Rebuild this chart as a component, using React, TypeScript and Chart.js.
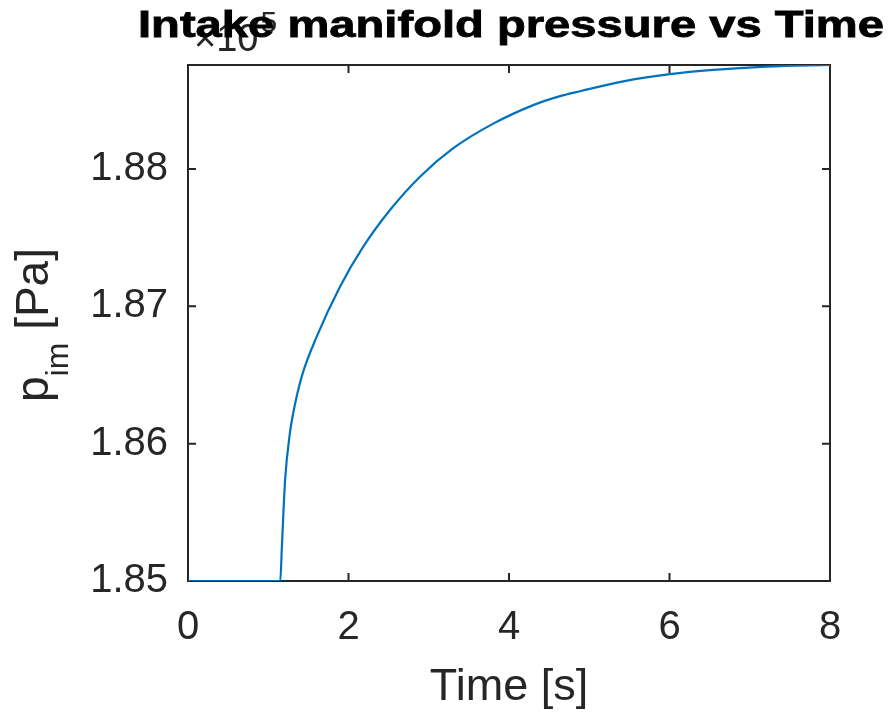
import React, { useEffect, useRef } from "react";
import { Chart, registerables } from "chart.js";

Chart.register(...registerables);

// Data
const timeS: number[] = [0, 1.15, 1.17, 1.21, 1.27, 1.31, 1.417, 1.604, 1.894, 2.184, 2.517, 2.891, 3.306, 3.804, 4.303, 4.636, 4.885, 5.424, 6.006, 6.546, 7.211, 8.0];
const pressurePa: number[] = [185000, 185000, 185250, 185736, 186078, 186220, 186488, 186779, 187143, 187434, 187701, 187944, 188151, 188330, 188465, 188530, 188566, 188638, 188690, 188721, 188745, 188757];
const xTicks: number[] = [0, 2, 4, 6, 8];
const yTicks: number[] = [185000, 186000, 187000, 188000];

const titleText = "Intake manifold pressure vs Time";
const xLabel = "Time [s]";
const yLabelMain = "p";
const yLabelSub = "im";
const yLabelRest = " [Pa]";
const exponentBase = "\u00d710";
const exponentPow = "5";

const FONT = "'Liberation Sans', Arial, Helvetica, sans-serif";
const AXIS_COLOR = "#262626";

const framePlugin = {
  id: "matlabFrame",
  beforeDatasetsDraw(chart: any) {
    const { ctx, chartArea, scales } = chart;
    const { left, right, top, bottom } = chartArea;
    const x = scales.x;
    const y = scales.y;
    ctx.save();
    ctx.strokeStyle = AXIS_COLOR;
    ctx.lineWidth = 2;
    ctx.strokeRect(left, top, right - left, bottom - top);
    const tl = 8;
    ctx.beginPath();
    xTicks.forEach((v) => {
      const px = x.getPixelForValue(v);
      ctx.moveTo(px, bottom);
      ctx.lineTo(px, bottom - tl);
      ctx.moveTo(px, top);
      ctx.lineTo(px, top + tl);
    });
    yTicks.forEach((v) => {
      const py = y.getPixelForValue(v);
      ctx.moveTo(left, py);
      ctx.lineTo(left + tl, py);
      ctx.moveTo(right, py);
      ctx.lineTo(right - tl, py);
    });
    ctx.stroke();
    ctx.restore();
  },
  afterDraw(chart: any) {
    const { ctx, chartArea } = chart;
    const { left, right, top, bottom } = chartArea;
    ctx.save();
    // y axis label with subscript
    ctx.fillStyle = AXIS_COLOR;
    ctx.textBaseline = "alphabetic";
    const mainFont = `46px ${FONT}`;
    const subFont = `32px ${FONT}`;
    ctx.font = mainFont;
    const w1 = ctx.measureText(yLabelMain).width;
    const w3 = ctx.measureText(yLabelRest).width;
    ctx.font = subFont;
    const w2 = ctx.measureText(yLabelSub).width;
    const total = w1 + w2 + w3;
    ctx.translate(48, (top + bottom) / 2 + 2);
    ctx.rotate(-Math.PI / 2);
    let cx = -total / 2;
    ctx.textAlign = "left";
    ctx.font = mainFont;
    ctx.fillText(yLabelMain, cx, 0);
    cx += w1;
    ctx.font = subFont;
    ctx.fillText(yLabelSub, cx, 20);
    cx += w2;
    ctx.font = mainFont;
    ctx.fillText(yLabelRest, cx, 0);
    ctx.restore();

    // exponent label
    ctx.save();
    ctx.fillStyle = AXIS_COLOR;
    ctx.textAlign = "left";
    ctx.textBaseline = "alphabetic";
    ctx.font = `38px ${FONT}`;
    ctx.fillText(exponentBase, left + 6, top - 14);
    const wb = ctx.measureText(exponentBase).width;
    ctx.font = `30px ${FONT}`;
    ctx.fillText(exponentPow, left + 6 + wb + 2, top - 33);
    ctx.restore();

    // title
    ctx.save();
    ctx.fillStyle = "#000000";
    ctx.strokeStyle = "#000000";
    ctx.lineWidth = 0.8;
    ctx.font = `bold 36px ${FONT}`;
    ctx.textAlign = "center";
    ctx.textBaseline = "alphabetic";
    const tw = ctx.measureText(titleText).width;
    const sx = 746 / tw;
    ctx.translate((left + right) / 2 + 2, top - 28);
    ctx.scale(sx, 1);
    ctx.fillText(titleText, 0, 0);
    ctx.strokeText(titleText, 0, 0);
    ctx.restore();
  },
};

export default function App() {
  const canvasRef = useRef<HTMLCanvasElement | null>(null);

  useEffect(() => {
    if (!canvasRef.current) return;
    const chart = new Chart(canvasRef.current, {
      type: "line",
      data: {
        datasets: [
          {
            data: timeS.map((t, i) => ({ x: t, y: pressurePa[i] })),
            borderColor: "#0072BD",
            borderWidth: 2.2,
            pointRadius: 0,
            fill: false,
            cubicInterpolationMode: "monotone",
          },
        ],
      },
      options: {
        animation: false,
        responsive: true,
        maintainAspectRatio: false,
        layout: { padding: { left: 0, right: 59, top: 65, bottom: 0 } },
        plugins: {
          legend: { display: false },
          tooltip: { enabled: false },
          title: { display: false },
        },
        scales: {
          x: {
            type: "linear",
            min: 0,
            max: 8,
            grid: { display: false, drawTicks: false },
            border: { display: false },
            afterBuildTicks: (scale: any) => {
              scale.ticks = xTicks.map((v) => ({ value: v }));
            },
            ticks: {
              color: AXIS_COLOR,
              font: { family: FONT, size: 40 },
              padding: 23,
              maxRotation: 0,
              autoSkip: false,
            },
            title: {
              display: true,
              text: xLabel,
              color: AXIS_COLOR,
              font: { family: FONT, size: 45 },
              padding: { top: 0, bottom: 0 },
            },
            afterFit: (scale: any) => {
              scale.height = 134;
            },
          },
          y: {
            type: "linear",
            min: 185000,
            max: 188757,
            grid: { display: false, drawTicks: false },
            border: { display: false },
            afterBuildTicks: (scale: any) => {
              scale.ticks = yTicks.map((v) => ({ value: v }));
            },
            ticks: {
              color: AXIS_COLOR,
              font: { family: FONT, size: 40 },
              padding: 20,
              autoSkip: false,
              callback: (v: any) => (Number(v) / 1e5).toFixed(2),
            },
            afterFit: (scale: any) => {
              scale.width = 188;
            },
          },
        },
      },
      plugins: [framePlugin],
    } as any);
    return () => chart.destroy();
  }, []);

  return (
    <div style={{ position: "absolute", left: 0, top: 0, width: 889, height: 715, background: "#fff" }}>
      <canvas ref={canvasRef} />
    </div>
  );
}
